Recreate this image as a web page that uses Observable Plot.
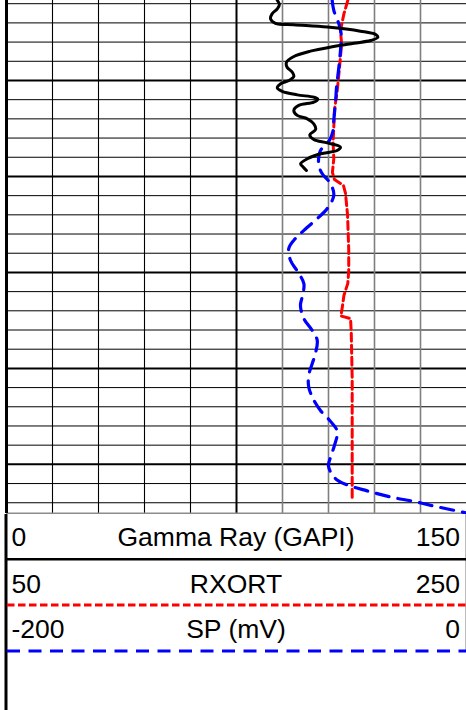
<!DOCTYPE html>
<html><head><meta charset="utf-8">
<script src="https://cdn.jsdelivr.net/npm/d3@7"></script>
<script src="https://cdn.jsdelivr.net/npm/@observablehq/plot@0.6"></script>
<style>
html,body{margin:0;padding:0;background:#fff;}
#chart{position:relative;width:466px;height:710px;overflow:hidden;background:#fff;}
#chart svg{display:block;}
</style></head><body><div id="chart"></div>
<script>
// ---- Track scales (legend) ----
const curveNames = ["Gamma Ray (GAPI)", "RXORT", "SP (mV)"];
const scaleLeft = [0, 50, -200];
const scaleRight = [150, 250, 0];

// ---- Gamma Ray curve ----
const gammaDepth = [0.83,1.04,1.27,1.53,1.79,2.02,2.10,2.22,2.43,2.60,2.75,2.92,3.06,3.23,3.47,3.75,4.05,4.31,4.57,4.79,5.00,5.17,5.38,5.57,5.75,5.87,5.97,6.13,6.30,6.56,6.82,7.00,7.26,7.55,7.83,8.07,8.25,8.47,8.65,8.82,9.08,9.34,9.52,9.69];
const gammaValue = [88.3,89.0,88.3,86.6,86.1,87.7,93.7,104.6,115.4,120.3,121.1,118.7,113.3,106.7,99.1,93.7,91.3,91.5,93.2,93.7,92.1,89.4,88.3,89.9,94.8,100.2,101.5,100.2,95.3,93.7,94.8,98.1,100.2,100.8,98.9,100.2,104.6,108.9,107.8,102.4,98.1,95.9,96.8,97.8];

// ---- RXORT curve ----
const rxortDepth = [0.83,1.53,2.40,3.09,4.31,5.52,6.56,7.43,8.21,9.08,9.79,10.16,10.47,10.88,12.03,13.85,14.90,15.57,16.20,16.82,17.27,17.41,18.18,20.52,26.72];
const rxortValue = [198.4,196.7,195.2,195.7,194.8,193.8,192.6,192.3,192.0,192.3,191.7,192.6,196.5,197.4,198.3,198.8,198.8,198.4,196.7,196.0,195.4,199.6,199.9,200.3,200.3];

// ---- SP curve ----
const spDepth = [0.83,1.35,2.05,2.57,3.44,4.31,5.35,6.04,7.08,7.60,8.12,8.65,9.06,9.48,9.86,10.38,10.99,11.68,12.12,12.81,13.33,13.77,14.38,14.98,15.59,16.25,16.72,17.41,18.02,18.54,19.23,19.76,20.36,20.97,21.58,22.19,22.76,23.28,24.01,24.62,25.10,25.74,26.07,26.38,26.70,26.93,27.19,27.53];
const spValue = [-58.4,-57.7,-55.5,-54.5,-54.8,-55.5,-56.5,-56.9,-57.7,-58.0,-59.6,-63.5,-64.3,-64.1,-62.7,-59.1,-57.7,-60.6,-64.2,-70.7,-75.1,-77.3,-76.5,-73.3,-70.7,-71.4,-72.2,-70.7,-67.1,-64.9,-65.7,-67.1,-68.6,-68.6,-66.7,-63.5,-59.1,-56.2,-57.4,-59.1,-60.0,-57.0,-51.9,-43.2,-33.0,-22.9,-13.5,0.0];

// ---- Depth grid ----
const depthTop = 0.8333, depthBottom = 27.56;
const minorDepths = d3.range(1, 28).filter(d => d % 5 !== 0);
const majorDepths = [5, 10, 15, 20, 25];
const leftGrid = [15, 30, 45, 60];
const centerGrid = [75];
const rightGrid = [90, 105, 120, 135];

const gamma = gammaDepth.map((d, i) => ({depth: d, v: gammaValue[i]}));
const rxort = rxortDepth.map((d, i) => ({depth: d, v: rxortValue[i]}));
const sp = spDepth.map((d, i) => ({depth: d, v: spValue[i]}));
// convert each track's value into the shared (Gamma Ray) x units
const toTrack = k => d => scaleLeft[0] + (d.v - scaleLeft[k]) / (scaleRight[k] - scaleLeft[k]) * (scaleRight[0] - scaleLeft[0]);

const plot = Plot.plot({
  width: 466, height: 514,
  marginLeft: 6, marginRight: 0, marginTop: 0, marginBottom: 1,
  x: {domain: [scaleLeft[0], scaleRight[0]], axis: null},
  y: {domain: [depthTop, depthBottom], reverse: true, axis: null},
  marks: [
    Plot.ruleY(minorDepths, {stroke: "#000", strokeWidth: 1}),
    Plot.ruleY(majorDepths, {stroke: "#000", strokeWidth: 2}),
    Plot.ruleX(rightGrid, {stroke: "#7f7f7f", strokeWidth: 1.6}),
    Plot.ruleX(leftGrid, {stroke: "#000", strokeWidth: 1.1}),
    Plot.ruleX(centerGrid, {stroke: "#000", strokeWidth: 2}),
    Plot.ruleY([depthBottom], {stroke: "#8c8c8c", strokeWidth: 2}),
    Plot.ruleX([scaleLeft[0]], {stroke: "#000", strokeWidth: 3}),
    Plot.line(rxort, {x: toTrack(1), y: "depth", stroke: "#ff0000", strokeWidth: 3, strokeDasharray: "8,4"}),
    Plot.line(sp, {x: toTrack(2), y: "depth", stroke: "#0000ff", strokeWidth: 3.2, strokeDasharray: "13,9", curve: "catmull-rom"}),
    Plot.line(gamma, {x: "v", y: "depth", stroke: "#000", strokeWidth: 3, curve: "catmull-rom"})
  ]
});
document.getElementById("chart").appendChild(plot);

// ---- Legend below the plot ----
const W = 466, H = 196;
const leg = d3.select("#chart").append("svg").attr("width", W).attr("height", H)
  .style("font-family", "'Liberation Sans', Arial, sans-serif");
leg.append("line").attr("x1", 6).attr("x2", 6).attr("y1", 0).attr("y2", H).attr("stroke", "#000").attr("stroke-width", 3);
leg.append("line").attr("x1", 465.5).attr("x2", 465.5).attr("y1", 0).attr("y2", 138).attr("stroke", "#bbb").attr("stroke-width", 1);
const rowBase = [32, 78.7, 123.7];
curveNames.forEach((name, i) => {
  leg.append("text").attr("x", 11.5).attr("y", rowBase[i]).attr("font-size", 26.5).attr("fill", "#000").text(scaleLeft[i]);
  leg.append("text").attr("x", 236).attr("y", rowBase[i]).attr("font-size", 26.5).attr("fill", "#000").attr("text-anchor", "middle").text(name);
  leg.append("text").attr("x", 460).attr("y", rowBase[i]).attr("font-size", 26.5).attr("fill", "#000").attr("text-anchor", "end").text(scaleRight[i]);
});
leg.append("line").attr("x1", 6).attr("x2", W).attr("y1", 45.3).attr("y2", 45.3).attr("stroke", "#000").attr("stroke-width", 2.5);
leg.append("line").attr("x1", 7).attr("x2", W).attr("y1", 91).attr("y2", 91).attr("stroke", "#ff0000").attr("stroke-width", 3).attr("stroke-dasharray", "7.5,3.5");
leg.append("line").attr("x1", 7).attr("x2", W).attr("y1", 137).attr("y2", 137).attr("stroke", "#0000ff").attr("stroke-width", 3).attr("stroke-dasharray", "13,8.5");
</script></body></html>
